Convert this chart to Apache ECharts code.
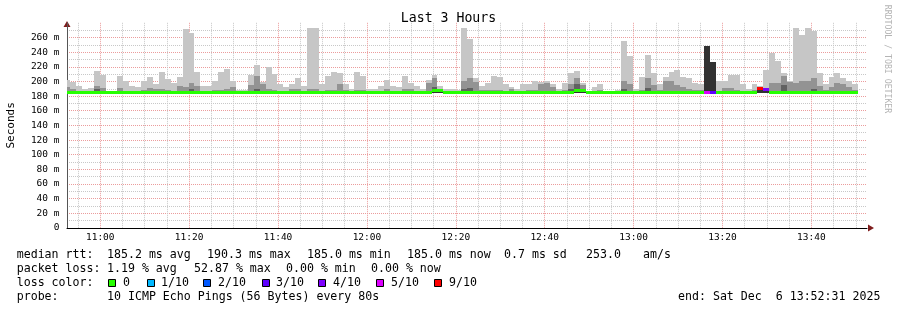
<!DOCTYPE html>
<html><head><meta charset="utf-8">
<script src="https://cdn.jsdelivr.net/npm/echarts@6/dist/echarts.min.js"></script>
<style>html,body{margin:0;padding:0;background:#fff}#c{width:897px;height:310px}</style>
</head><body><div id="c"></div>
<script>
const FONT = "'DejaVu Sans Mono', monospace";
// time axis in minutes of day
const axisStart = 652 + 31/60;   // 10:52:31
const axisEnd   = 832 + 31/60;   // 13:52:31
const firstStep = 653.2;         // first full 80 s step boundary
const stepMin = 80/60;
const xLabelValues = [660,680,700,720,740,760,780,800,820];
const xMinorValues = [655,665,670,675,685,690,695,705,710,715,725,730,735,745,750,755,765,770,775,785,790,795,805,810,815,825,830];
const smokeBase = 184.5;

// smoke layer tops (ms), one value per 80 s column (first column partial)
const smokeHi = [202,
 199,194,189,191,214,209,187,187,208,200,
 194,192,201,206,196,213,203,198,206,272,
 266,213,194,194,200,213,217,200,188,188,
 209,223,199,220,210,196,192,197,205,194,
 273,273,197,208,213,211,196,190,213,208,
 189,190,194,202,194,192,207,198,194,190,
 202,209,194,189,189,188,273,258,205,194,
 198,207,206,197,192,189,196,197,201,199,
 200,196.5,190,198,211.5,214,198,187,192,196,
 187,187,188,255,235,190,206,236,211.5,196,
 206,213,216,206,204,198,196,248,226.5,200,
 200,209,209,196,190,197,193.4,215,239,228,
 211,200.6,273,264,273,269,211.5,197,206,211,
 204.6,200.6,197];
const smokeMid = [192,
 189,187,187,187,194,191,186,186,191,187,
 187,187,188,191,190,190,188,187,194,193,
 198,194,187,187,188,188,189,193,187,187,
 195,208,197,189,188,187,187,190,190,187,
 189,189,187,188,188,196,188,187,188,188,
 187,187,187,190,187,187,190,190,187,187,
 198,204,190,187,187,187,200,205,199,188,
 188,188,188,187,189,187,187,188,188,196,
 198,192,187,188,196,204,195,186,187,188,
 186,186,187,200.6,197,187,188,204,195,188,
 200.6,200,195,193,190,188,188,248,226.5,187,
 191,191,188,187,187,188,192,190,198,198,
 208,199,198.5,200.6,200,204.6,194,188,192,198.5,
 196,192,188];
const smokeLow = [186.5,
 186.5,186.5,186.5,186.5,190,186.5,186,186,186.5,186.5,
 186.5,186.5,186.5,186.5,186.5,186.5,186.5,186.5,186.5,186.5,
 189,186.5,186.5,186.5,186.5,186.5,186.5,186.5,186.5,186.5,
 186.5,190,186.5,186.5,186.5,186.5,186.5,186.5,186.5,186.5,
 186.5,186.5,186.5,186.5,186.5,186.5,186.5,186.5,186.5,186.5,
 186.5,186.5,186.5,186.5,186.5,186.5,186.5,186.5,186.5,186.5,
 186.5,192.5,186.5,186.5,186.5,186.5,190,191,186.5,186.5,
 186.5,186.5,186.5,186.5,186.5,186.5,186.5,186.5,186.5,186.5,
 186.5,186.5,186.5,186.5,190,196,186.5,186.5,186.5,186.5,
 186.5,186.5,186.5,190,186.5,186.5,186.5,191,186.5,186.5,
 186.5,186.5,186.5,186.5,186.5,186.5,186.5,248,226.5,186.5,
 186.5,186.5,186.5,186.5,186.5,186.5,192,190,186.5,186.5,
 195,186.5,186.5,186.5,186.5,190,186.5,186.5,186.5,186.5,
 186.5,186.5,186.5];
const smokeCore = [185.5,
 185.5,185.5,185.5,185.5,185.5,185.5,185.5,185.5,185.5,185.5,
 185.5,185.5,185.5,185.5,185.5,185.5,185.5,185.5,185.5,185.5,
 185.5,185.5,185.5,185.5,185.5,185.5,185.5,185.5,185.5,185.5,
 185.5,185.5,185.5,185.5,185.5,185.5,185.5,185.5,185.5,185.5,
 185.5,185.5,185.5,185.5,185.5,185.5,185.5,185.5,185.5,185.5,
 185.5,185.5,185.5,185.5,185.5,185.5,185.5,185.5,185.5,185.5,
 185.5,187.5,186.5,185.5,185.5,185.5,185.5,185.5,185.5,185.5,
 185.5,185.5,185.5,185.5,185.5,185.5,185.5,185.5,185.5,185.5,
 185.5,185.5,185.5,185.5,185.5,187,186.5,185.5,185.5,185.5,
 185.5,185.5,185.5,185.5,185.5,185.5,185.5,185.5,185.5,185.5,
 185.5,185.5,185.5,185.5,185.5,185.5,185.5,248,226.5,185.5,
 185.5,185.5,185.5,185.5,185.5,185.5,192,190,185.5,185.5,
 185.5,185.5,185.5,185.5,185.5,185.5,185.5,185.5,185.5,185.5,
 185.5,185.5,185.5];
const medianRtt = [185,
 185,185,185,185,185,185,185,185,185,185,
 185,185,185,185,185,185,185,185,185,185,
 185,185,185,185,185,185,185,185,185,185,
 185,185,185,185,185,185,185,185,185,185,
 185,185,185,185,185,185,185,185,185,185,
 185,185,185,185,185,185,185,185,185,185,
 185,188,187,185,185,185,185,185,185,185,
 185,185,185,185,185,185,185,185,185,185,
 185,185,185,185,185,188,187,185,185,185,
 185,185,185,185,185,185,185,185,185,185,
 185,185,185,185,185,185,185,185,185,185,
 185,185,185,185,185,185,190,189,185,185,
 185,185,185,185,185,185,185,185,185,185,
 185,185,185];
const lossCount = [0,
 0,0,0,0,0,0,0,0,0,0, 0,0,0,0,0,0,0,0,0,0,
 0,0,0,0,0,0,0,0,0,0, 0,0,0,0,0,0,0,0,0,0,
 0,0,0,0,0,0,0,0,0,0, 0,0,0,0,0,0,0,0,0,0,
 0,0,0,0,0,0,0,0,0,0, 0,0,0,0,0,0,0,0,0,0,
 0,0,0,0,0,0,0,0,0,0, 0,0,0,0,0,0,0,0,0,0,
 0,0,0,0,0,0,0,5,3,0, 0,0,0,0,0,0,9,4,0,0,
 0,0,0,0,0,0,0,0,0,0, 0,0,0];
const lossLegend = [['0','#26ff00'],['1/10','#00b8ff'],['2/10','#0059ff'],['3/10','#5e00ff'],['4/10','#7e00ff'],['5/10','#dd00ff'],['9/10','#ff0000']];
const lossPalette = {0:'#26ff00',1:'#00b8ff',2:'#0059ff',3:'#5e00ff',4:'#7e00ff',5:'#dd00ff',9:'#ff0000'};

function colStart(i){ return i === 0 ? axisStart : firstStep + (i-1)*stepMin; }
function colEnd(i){ return firstStep + i*stepMin; }

function layerData(arr){ return arr.map((v,i)=>[colStart(i), colEnd(i), smokeBase, v]); }
function rectItem(color){
  return function(params, api){
    const a = api.coord([api.value(0), api.value(3)]);
    const b = api.coord([api.value(1), api.value(2)]);
    const x0 = Math.round(a[0]), x1 = Math.round(b[0]);
    const y0 = Math.round(a[1]), y1 = Math.round(b[1]);
    return {type:'rect', shape:{x:x0, y:y0, width:x1-x0, height:y1-y0}, style:{fill:color}};
  };
}
function smokeSeries(arr, color){
  return {type:'custom', renderItem:rectItem(color), data:layerData(arr), encode:{x:[0,1], y:[2,3]}, clip:true, silent:true};
}
const medianData = medianRtt.map((v,i)=>[colStart(i), colEnd(i), v, lossCount[i]]);

const pad = n => (n<10?'0':'') + n;
const chart = echarts.init(document.getElementById('c'), null, {renderer:'canvas'});

const gfx = [];
function txt(x, y, s, size, color, extra){
  gfx.push(Object.assign({type:'text', x:x, y:y, silent:true,
    style:{text:s, x:0, y:0, fill:color||'#000', font: (size||11.6)+'px '+FONT, align:'left', verticalAlign:'middle'}}, extra||{}));
}
const rows = [255, 269, 282.7, 296.7];
[[16.7,'median rtt:'],[107,'185.2 ms avg'],[207,'190.3 ms max'],[307,'185.0 ms min'],[407,'185.0 ms now'],[504,'0.7 ms sd'],[586,'253.0'],[643,'am/s']].forEach(p=>txt(p[0], rows[0], p[1]));
[[16.7,'packet loss:'],[107,'1.19 % avg'],[194,'52.87 % max'],[286,'0.00 % min'],[371,'0.00 % now']].forEach(p=>txt(p[0], rows[1], p[1]));
txt(16.7, rows[2], 'loss color:');
const sqX = [108,147,203,262,318,376,434];
const lbX = [123,161,218,276,333,391,449];
lossLegend.forEach((l,i)=>{
  gfx.push({type:'rect', silent:true, shape:{x:sqX[i]+0.5, y:279.5, width:7, height:7}, style:{fill:l[1], stroke:'#000', lineWidth:1}});
  txt(lbX[i], rows[2], l[0]);
});
[[16.7,'probe:'],[107,'10 ICMP Echo Pings (56 Bytes) every 80s'],[678,'end: Sat Dec  6 13:52:31 2025']].forEach(p=>txt(p[0], rows[3], p[1]));
// watermark
gfx.push({type:'text', x:887, y:59, rotation:-Math.PI/2, silent:true,
  style:{text:'RRDTOOL / TOBI OETIKER', x:0, y:0, fill:'#b4b4b4', font:'8.2px '+FONT, align:'center', verticalAlign:'middle'}});
// axis arrows
gfx.push({type:'polygon', silent:true, shape:{points:[[868,224.5],[874,228],[868,231.5]]}, style:{fill:'#7f1d1d'}});
gfx.push({type:'polygon', silent:true, shape:{points:[[63.5,27],[67,21],[70.5,27]]}, style:{fill:'#7f1d1d'}});

const option = {
  animation:false,
  backgroundColor:'#fff',
  title:{text:'Last 3 Hours', left:'center', top:12.5, padding:0, textStyle:{fontFamily:FONT, fontSize:13.2, fontWeight:'normal', color:'#000'}},
  grid:{left:67, right:30, top:22.8, bottom:82, containLabel:false, outerBoundsMode:'none'},
  xAxis:[{
    type:'value', min:axisStart, max:axisEnd,
    axisLine:{show:true, onZero:false, lineStyle:{color:'#000', width:1}},
    axisTick:{show:false, customValues:xMinorValues},
    axisLabel:{show:true, customValues:xLabelValues, margin:4.5, fontFamily:FONT, fontSize:9.5, color:'#000',
      formatter:v=>Math.floor(v/60)+':'+pad(Math.round(v%60))},
    splitLine:{show:true, lineStyle:{color:'#c8c8c8', width:1, type:[1,1]}}
  },{
    type:'value', min:axisStart, max:axisEnd, position:'bottom',
    axisLine:{show:false}, axisLabel:{show:false},
    axisTick:{show:false, customValues:xLabelValues},
    splitLine:{show:true, lineStyle:{color:'#eb9c9c', width:1, type:[1,1]}}
  }],
  yAxis:{
    type:'value', min:0, max:280, interval:20,
    name:'Seconds', nameLocation:'middle', nameGap:50,
    nameTextStyle:{fontFamily:FONT, fontSize:11, color:'#000'},
    axisLine:{show:true, lineStyle:{color:'#555', width:1}},
    axisTick:{show:false},
    axisLabel:{margin:7.5, fontFamily:FONT, fontSize:9.5, color:'#000', showMaxLabel:false,
      formatter:v=> v===0 ? '0' : v+' m'},
    splitLine:{show:true, showMinLine:false, showMaxLine:false, lineStyle:{color:'#eb9c9c', width:1, type:[1,1]}},
    minorTick:{show:false, splitNumber:2},
    minorSplitLine:{show:true, lineStyle:{color:'#c8c8c8', width:1, type:[1,1]}}
  },
  series:[
    smokeSeries(smokeHi, '#c6c6c6'),
    smokeSeries(smokeMid, '#939393'),
    smokeSeries(smokeLow, '#616161'),
    smokeSeries(smokeCore, '#323232'),
    {type:'custom', data:medianData, encode:{x:[0,1], y:2}, clip:true, silent:true,
     renderItem:function(params, api){
       const a = api.coord([api.value(0), api.value(2)]);
       const b = api.coord([api.value(1), api.value(2)]);
       const x0 = Math.round(a[0]), x1 = Math.round(b[0]);
       return {type:'rect', shape:{x:x0, y:Math.round(a[1]-1.5), width:x1-x0, height:3}, style:{fill:lossPalette[api.value(3)]}};
     }}
  ],
  graphic:gfx
};
chart.setOption(option);
</script></body></html>
